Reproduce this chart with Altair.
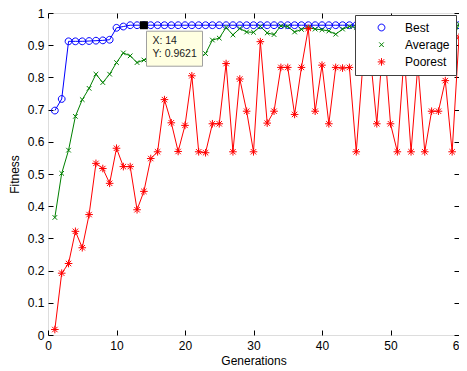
import altair as alt
import pandas as pd

# ---------------- data ----------------
generations = list(range(1, 61))

best = [0.697, 0.733, 0.912, 0.912, 0.912, 0.913, 0.914, 0.915, 0.917, 0.954,
        0.958, 0.9621, 0.9621, 0.9621, 0.9621, 0.9621, 0.9621, 0.9621, 0.9621, 0.9621,
        0.9621, 0.9621, 0.9621, 0.9621, 0.9621, 0.9621, 0.9621, 0.9621, 0.9621, 0.9621,
        0.9621, 0.9621, 0.9621, 0.9621, 0.9621, 0.9621, 0.9621, 0.9621, 0.9621, 0.9621,
        0.9621, 0.9621, 0.9621, 0.9621, 0.9621, 0.9621, 0.9621, 0.9621, 0.9621, 0.9621,
        0.9621, 0.9621, 0.9621, 0.9621, 0.9621, 0.9621, 0.9621, 0.9621, 0.9621, 0.9621]

average = [0.365, 0.502, 0.574, 0.679, 0.731, 0.766, 0.810, 0.784, 0.810, 0.846,
           0.876, 0.867, 0.846, 0.854, 0.860, 0.870, 0.870, 0.880, 0.880, 0.875,
           0.865, 0.860, 0.874, 0.916, 0.922, 0.955, 0.932, 0.952, 0.941, 0.940,
           0.958, 0.938, 0.933, 0.960, 0.958, 0.941, 0.949, 0.955, 0.950, 0.948,
           0.944, 0.934, 0.950, 0.958, 0.955, 0.950, 0.958, 0.952, 0.960, 0.955,
           0.950, 0.958, 0.954, 0.960, 0.952, 0.955, 0.945, 0.925, 0.911, 0.965]

poorest = [0.017, 0.192, 0.222, 0.322, 0.271, 0.374, 0.533, 0.517, 0.471, 0.580,
           0.523, 0.523, 0.389, 0.446, 0.548, 0.569, 0.731, 0.659, 0.570, 0.651,
           0.805, 0.569, 0.566, 0.656, 0.656, 0.843, 0.569, 0.795, 0.695, 0.569,
           0.911, 0.658, 0.695, 0.831, 0.831, 0.685, 0.831, 0.952, 0.695, 0.838,
           0.656, 0.831, 0.829, 0.831, 0.569, 0.850, 0.880, 0.656, 0.930, 0.656,
           0.569, 0.870, 0.569, 0.840, 0.569, 0.695, 0.695, 0.790, 0.569, 0.925]

series_names = ["Best", "Average", "Poorest"]
series_colors = ["#0000FF", "#008000", "#FF0000"]
# marker outlines drawn small inside a large symbol box (box size keeps legend spacing)
CIRCLE_PATH = "M-0.17,0A0.17,0.17,0,1,0,0.17,0A0.17,0.17,0,1,0,-0.17,0Z"
X_PATH = "M-0.115,-0.115L0.115,0.115M-0.115,0.115L0.115,-0.115"
STAR_PATH = ("M0,-0.19L0,0.19M-0.19,0L0.19,0"
             "M-0.135,-0.135L0.135,0.135M-0.135,0.135L0.135,-0.135")
series_shapes = [CIRCLE_PATH, X_PATH, STAR_PATH]
MARKER_SIZE = 1600

x_ticks = [0, 10, 20, 30, 40, 50, 60]
y_ticks = [0, 0.1, 0.2, 0.3, 0.4, 0.5, 0.6, 0.7, 0.8, 0.9, 1.0]

tip_x, tip_y = 14, 0.9621

# ---------------- tables ----------------
rows = []
for name, vals in zip(series_names, [best, average, poorest]):
    for g, v in zip(generations, vals):
        rows.append({"gen": g, "fit": v, "series": name})
df = pd.DataFrame(rows)

tip_df = pd.DataFrame({"gen": [tip_x], "fit": [tip_y],
                       "lx": [f"X: {tip_x}"], "ly": [f"Y: {tip_y}"]})

W, H = 411, 322
FONT = "Liberation Sans"

xs = alt.Scale(domain=[0, 60], nice=False, zero=False)
ys = alt.Scale(domain=[0, 1], nice=False, zero=False)

ax_x_lab = alt.Axis(orient="bottom", values=x_ticks, ticks=False, domain=False, grid=False,
                    labelPadding=5, labelFont=FONT, labelFontSize=12, labelColor="black",
                    labelFlush=False, labelOverlap=False,
                    title="Generations", titleFont=FONT, titleFontSize=12,
                    titleFontWeight="normal", titleColor="black", titlePadding=4)
ax_y_lab = alt.Axis(orient="left", values=y_ticks, ticks=False, domain=False, grid=False,
                    labelPadding=4, labelFont=FONT, labelFontSize=12, labelColor="black",
                    labelFlush=False, labelOverlap=False,
                    labelExpr="datum.value == 0 ? '0' : datum.value == 1 ? '1' : format(datum.value, '.1f')",
                    title="Fitness", titleFont=FONT, titleFontSize=12,
                    titleFontWeight="normal", titleColor="black", titlePadding=6)
tick_common = dict(labels=False, ticks=True, tickSize=5, tickColor="black", tickWidth=1,
                   domain=False, grid=False, title=None)
ax_x_t1 = alt.Axis(orient="top", offset=-H, values=x_ticks, **tick_common)
ax_x_t2 = alt.Axis(orient="bottom", offset=-H, values=x_ticks, **tick_common)
ax_y_t1 = alt.Axis(orient="right", offset=-W, values=y_ticks, **tick_common)
ax_y_t2 = alt.Axis(orient="left", offset=-W, values=y_ticks, **tick_common)

legend = alt.Legend(title=None, orient="none", legendX=307, legendY=2,
                    fillColor="white", strokeColor="#404040", padding=6,
                    labelOffset=3, rowPadding=4.2, clipHeight=13,
                    symbolSize=MARKER_SIZE, symbolStrokeWidth=1,
                    labelFont=FONT, labelFontSize=12, labelColor="black")

color_enc = alt.Color("series:N", scale=alt.Scale(domain=series_names, range=series_colors), legend=legend)
shape_enc = alt.Shape("series:N", scale=alt.Scale(domain=series_names, range=series_shapes), legend=legend)

base = alt.Chart(df)


def xy(xaxis=None, yaxis=None):
    return dict(x=alt.X("gen:Q", scale=xs, axis=xaxis),
                y=alt.Y("fit:Q", scale=ys, axis=yaxis))


layers = []
axes_for_lines = [(ax_x_lab, ax_y_lab), (ax_x_t1, ax_y_t1), (ax_x_t2, ax_y_t2)]
for (name, col), (axx, axy) in zip(zip(series_names, series_colors), axes_for_lines):
    sub = base.transform_filter(alt.datum.series == name)
    layers.append(sub.mark_line(color=col, strokeWidth=1).encode(**xy(axx, axy)))
    layers.append(sub.mark_point(filled=False, size=MARKER_SIZE, strokeWidth=1, opacity=1)
                  .encode(**xy(), color=color_enc, shape=shape_enc))

tip = alt.Chart(tip_df)
layers.append(tip.mark_rect(fill="#FFFFE1", stroke="#A0A0A0", strokeWidth=1,
                            xOffset=2.6, x2Offset=58.6, yOffset=6, y2Offset=41)
              .encode(x=alt.X("gen:Q", scale=xs, axis=None), x2="gen",
                      y=alt.Y("fit:Q", scale=ys, axis=None), y2="fit"))
layers.append(tip.mark_square(size=64, color="black", filled=True, opacity=1).encode(**xy()))
layers.append(tip.mark_text(align="left", baseline="middle", dx=8.5, dy=15.4,
                            font=FONT, fontSize=10.5, color="#222222")
              .encode(**xy(), text="lx:N"))
layers.append(tip.mark_text(align="left", baseline="middle", dx=8.5, dy=28.7,
                            font=FONT, fontSize=10.5, color="#222222")
              .encode(**xy(), text="ly:N"))

chart = (alt.layer(*layers)
         .resolve_axis(x="independent", y="independent")
         .properties(width=W, height=H,
                     autosize=alt.AutoSizeParams(type="none"),
                     padding={"left": 40, "top": 5, "right": 0, "bottom": 36})
         .configure_view(stroke="#222222", strokeWidth=1)
         .configure(background="white"))

chart.save("out.html", embed_options={"renderer": "svg", "actions": False})
